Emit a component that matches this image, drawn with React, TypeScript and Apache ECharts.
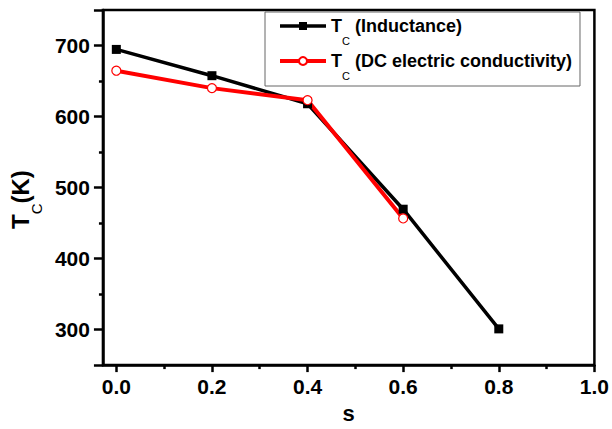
import React, { useEffect, useRef } from "react";
import * as echarts from "echarts";

const sValues = [0.0, 0.2, 0.4, 0.6, 0.8];
const tcInductance = [694.5, 657.5, 618, 469.5, 301];
const sValuesDC = [0.0, 0.2, 0.4, 0.6];
const tcDC = [664.5, 640, 623, 456.5];
const xMajorTicks = [0, 0.2, 0.4, 0.6, 0.8, 1.0];
const xMinorTicks = [0.1, 0.3, 0.5, 0.7, 0.9];
const yMajorTicks = [250, 300, 400, 500, 600, 700, 750];
const yLabels = [300, 400, 500, 600, 700];
const yMinorTicks = [350, 450, 550, 650];

const FONT = "'Liberation Sans', Arial, sans-serif";

export default function App() {
  const ref = useRef<HTMLDivElement>(null);
  useEffect(() => {
    if (!ref.current) return;
    const chart = echarts.init(ref.current, null, { renderer: "svg" });
    const axisLineStyle = { color: "#000", width: 2.5 };
    chart.setOption({
      animation: false,
      backgroundColor: "#fff",
      grid: {
        left: 99,
        right: 17.5,
        top: 10,
        bottom: 58.5,
        show: true,
        borderColor: "#000",
        borderWidth: 2.5,
        backgroundColor: "transparent",
      },
      legend: {
        left: 265,
        top: 12,
        orient: "vertical",
        itemWidth: 46,
        itemHeight: 10,
        itemGap: 6,
        padding: [5, 8, 5, 13],
        borderColor: "#666",
        borderWidth: 1,
        backgroundColor: "#fff",
        data: [
          { name: "Inductance", lineStyle: { width: 3.5 } },
          { name: "DC", lineStyle: { width: 4 } },
        ],
        formatter: (name: string) =>
          name === "Inductance"
            ? "{t|T}{s|C}{t| (Inductance)}"
            : "{t|T}{s|C}{t| (DC electric conductivity)}",
        textStyle: {
          rich: {
            t: { fontFamily: FONT, fontWeight: "bold", fontSize: 18, color: "#000", lineHeight: 24 },
            s: { fontFamily: FONT, fontSize: 11, color: "#000", lineHeight: 24, verticalAlign: "bottom", padding: [0, 0, -8, 0] },
          },
        },
      },
      xAxis: [
        {
          type: "value",
          min: -0.028,
          max: 1.0,
          name: "s",
          nameLocation: "middle",
          nameGap: 31,
          nameTextStyle: { fontFamily: FONT, fontWeight: "bold", fontSize: 22, color: "#000" },
          axisLine: { show: true, onZero: false, lineStyle: axisLineStyle },
          axisTick: { show: true, inside: false, length: 7, lineStyle: { color: "#000", width: 2.5 }, customValues: xMajorTicks },
          axisLabel: {
            customValues: xMajorTicks,
            formatter: (v: number) => v.toFixed(1),
            fontFamily: FONT,
            fontWeight: "bold",
            fontSize: 21,
            color: "#000",
            margin: 11,
          },
          splitLine: { show: false },
        },
        {
          type: "value",
          min: -0.028,
          max: 1.0,
          position: "bottom",
          axisLine: { show: false, onZero: false },
          axisTick: { show: true, inside: false, length: 4, lineStyle: { color: "#000", width: 2.5 }, customValues: xMinorTicks },
          axisLabel: { show: false },
          splitLine: { show: false },
        },
      ],
      yAxis: [
        {
          type: "value",
          min: 250,
          max: 750,
          name: "{t|T}{s|C}{t|(K)}",
          nameLocation: "middle",
          nameGap: 66,
          nameRotate: 90,
          nameTextStyle: {
            padding: [0, 24, 0, 0],
            rich: {
              t: { fontFamily: FONT, fontWeight: "bold", fontSize: 24, color: "#000", lineHeight: 28 },
              s: { fontFamily: FONT, fontSize: 15, color: "#000", lineHeight: 28, verticalAlign: "bottom", padding: [0, 0, -10, 0] },
            },
          },
          axisLine: { show: true, onZero: false, lineStyle: axisLineStyle },
          axisTick: { show: true, inside: false, length: 9, lineStyle: { color: "#000", width: 2.5 }, customValues: yMajorTicks },
          axisLabel: {
            customValues: yLabels,
            fontFamily: FONT,
            fontWeight: "bold",
            fontSize: 21,
            color: "#000",
            margin: 13,
          },
          splitLine: { show: false },
        },
        {
          type: "value",
          min: 250,
          max: 750,
          position: "left",
          axisLine: { show: false, onZero: false },
          axisTick: { show: true, inside: false, length: 4, lineStyle: { color: "#000", width: 2.5 }, customValues: yMinorTicks },
          axisLabel: { show: false },
          splitLine: { show: false },
        },
      ],
      series: [
        {
          name: "Inductance",
          type: "line",
          data: sValues.map((s, i) => [s, tcInductance[i]]),
          symbol: "rect",
          symbolSize: 9,
          itemStyle: { color: "#000" },
          lineStyle: { color: "#000", width: 3.5 },
        },
        {
          name: "DC",
          type: "line",
          data: sValuesDC.map((s, i) => [s, tcDC[i]]),
          symbol: "circle",
          symbolSize: 9,
          itemStyle: { color: "#fff", borderColor: "#ff0000", borderWidth: 1.2 },
          lineStyle: { color: "#ff0000", width: 4 },
        },
      ],
    });
    return () => chart.dispose();
  }, []);
  return <div ref={ref} style={{ width: 612, height: 429, position: "absolute", left: 0, top: 0 }} />;
}
